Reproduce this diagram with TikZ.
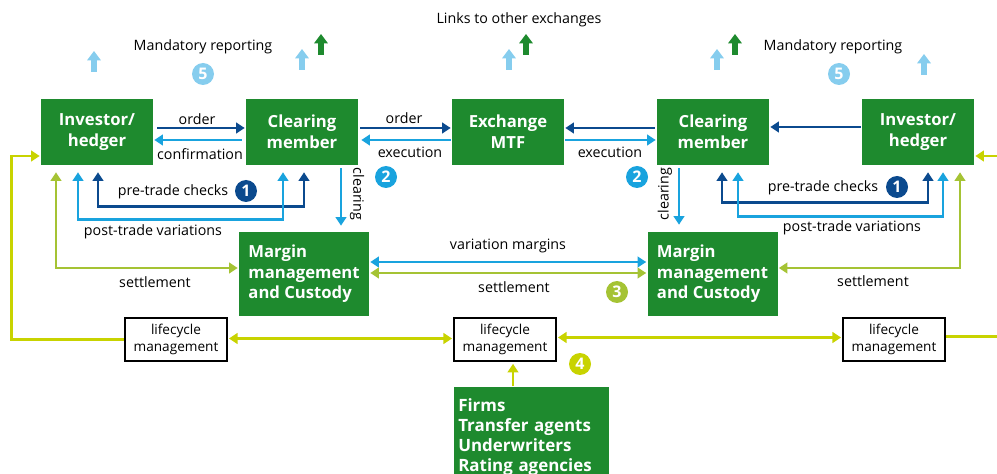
\documentclass[tikz,border=0pt]{standalone}
\usepackage{fontspec}
\setmainfont{Open Sans}
\usetikzlibrary{arrows.meta,calc}
\definecolor{boxgreen}{HTML}{1E8A2E}
\definecolor{dkblue}{HTML}{0B4A8E}
\definecolor{ltblue}{HTML}{19A3DE}
\definecolor{skyblue}{HTML}{86CDEE}
\definecolor{settlegreen}{HTML}{A5C334}
\definecolor{lcgreen}{HTML}{C8D300}
\tikzset{
	box/.style={fill=boxgreen, text=white, font=\bfseries\fontsize{12.5}{15.5}\selectfont, align=center, minimum width=84pt, minimum height=49.5pt, inner sep=2pt},
	mbox/.style={box, align=left, minimum width=97.5pt, minimum height=63pt},
	lcbox/.style={draw=black, line width=1.4pt, fill=white, font=\fontsize{10.2}{12.7}\selectfont, align=center, minimum width=76.5pt, minimum height=32pt, inner sep=1pt},
	lbl/.style={font=\fontsize{10.7}{12}\selectfont, inner sep=1pt},
	badge/.style={circle, fill=#1, text=white, font=\bfseries\fontsize{12}{12}\selectfont, minimum size=16.5pt, inner sep=0pt},
	tip/.tip={Triangle[length=6.5pt, width=8pt]},
	link/.style={draw=#1, line width=2.2pt, -tip},
	both/.style={link=#1, tip-tip},
	uparr/.style={draw=#1, line width=4.5pt, -{Triangle[length=7pt, width=10pt]}}
}
\begin{document}
\begin{tikzpicture}[x=0.75pt, y=-0.75pt]
	\useasboundingbox (0,0) rectangle (997,474);
	\node[box] (inv1) at (97,132) {Investor/\\hedger};
	\node[box] (clr1) at (302,132) {Clearing\\member};
	\node[box] (exch) at (508,132) {Exchange\\MTF};
	\node[box] (clr2) at (713,132) {Clearing\\member};
	\node[box] (inv2) at (918,132) {Investor/\\hedger};
	\node[mbox] (mrg1) at (304,274) {Margin\\management\\and Custody};
	\node[mbox] (mrg2) at (712.5,274) {Margin\\management\\and Custody};
	\node[lcbox] (lc1) at (176,339.5) {lifecycle\\management};
	\node[lcbox] (lc2) at (505,339.5) {lifecycle\\management};
	\node[lcbox] (lc3) at (894,339.5) {lifecycle\\management};
	\node[box, anchor=north west, align=left, minimum width=114.75pt, minimum height=75pt, text width=110pt, inner xsep=3pt, inner ysep=2pt, font=\bfseries\fontsize{12.7}{15}\selectfont] (firms) at (454,387) {Firms\\Transfer agents\\Underwriters\\Rating agencies};

	\draw[link=dkblue] ($(inv1.east)+(4,-4)$) -- ($(clr1.west)+(-1,-4)$);
	\draw[link=ltblue] ($(clr1.west)+(-4,8)$) -- ($(inv1.east)+(1,8)$);
	\draw[link=dkblue] ($(clr1.east)+(2,-4)$) -- ($(exch.west)+(-1,-4)$);
	\draw[link=ltblue] ($(exch.west)+(-1,8)$) -- ($(clr1.east)+(3,8)$);
	\draw[link=dkblue] ($(clr2.west)+(-2,-4)$) -- ($(exch.east)+(1,-4)$);
	\draw[link=ltblue] ($(exch.east)+(1,8)$) -- ($(clr2.west)+(-1,8)$);
	\draw[link=dkblue] ($(inv2.west)+(-1,-5)$) -- ($(clr2.east)+(1,-5)$);

	\draw[both=dkblue] ($(inv1.south)+(1,7)$) -- ++(0,34) -| ($(clr1.south)+(2,7)$);
	\draw[both=ltblue] ($(inv1.south)+(-19,7)$) -- ++(0,47) -| ($(clr1.south)+(-19,7)$);
	\draw[both=dkblue] ($(clr2.south)+(9,7)$) -- ++(0,30) -| ($(inv2.south)+(10,7)$);
	\draw[both=ltblue] ($(clr2.south)+(25,7)$) -- ++(0,44) -| ($(inv2.south)+(25,7)$);

	\draw[link=ltblue] ($(clr1.south)+(39,3)$) -- ($(mrg1.north)+(37,-6)$);
	\draw[link=ltblue] ($(clr2.south)+(-34,3)$) -- ($(mrg2.north)+(-33.5,-7)$);

	\draw[both=settlegreen] ($(inv1.south)+(-41,7)$) |- ($(mrg1.west)+(-1,-6)$);
	\draw[both=settlegreen] ($(inv2.south)+(42,7)$) |- ($(mrg2.east)+(1,-6)$);
	\draw[both=ltblue] ($(mrg1.east)+(1,-12)$) -- ($(mrg2.west)+(-1,-12)$);
	\draw[both=settlegreen] ($(mrg1.east)+(1,-1)$) -- ($(mrg2.west)+(-1,-1)$);

	\draw[link=lcgreen] (lc1.west) -- ++(-113,0) |- ($(inv1.west)+(-1,24)$);
	\draw[both=lcgreen] ($(lc1.east)+(1,-1)$) -- ($(lc2.west)+(-1,-1)$);
	\draw[both=lcgreen] ($(lc2.east)+(1,-2)$) -- ($(lc3.west)+(-1,-2)$);
	\draw[link=lcgreen] ($(lc3.east)+(0,-3)$) -- ++(62,0) |- ($(inv2.east)+(1,24)$);
	\draw[link=lcgreen] ($(firms.north west)+(59,-1)$) -- ($(lc2.south)+(8,2)$);

	\draw[uparr=skyblue] (94,72) -- ++(0,-21);
	\draw[uparr=skyblue] (302,70) -- ++(0,-21);
	\draw[uparr=boxgreen] (321,55) -- ++(0,-21);
	\draw[uparr=skyblue] (509,70) -- ++(0,-21);
	\draw[uparr=boxgreen] (526,55) -- ++(0,-21);
	\draw[uparr=skyblue] (717,70) -- ++(0,-21);
	\draw[uparr=boxgreen] (735,55) -- ++(0,-21);
	\draw[uparr=skyblue] (924,75) -- ++(0,-21);

	\node[lbl] (rep1) at (203,47) {Mandatory reporting};
	\node[lbl] (links) at (519,20) {Links to other exchanges};
	\node[lbl] (rep2) at (833,47) {Mandatory reporting};
	\node[lbl] (ord1) at (197,119) {order};
	\node[lbl] (conf) at (200,154) {confirmation};
	\node[lbl] (ord2) at (404,118) {order};
	\node[lbl] (exe1) at (410,152) {execution};
	\node[lbl] (exe2) at (610,152) {execution};
	\node[lbl, rotate=-90] (clg1) at (357,194) {clearing};
	\node[lbl, rotate=90] (clg2) at (665,194) {clearing};
	\node[lbl] (pre1) at (173,192) {pre-trade checks};
	\node[lbl] (post1) at (153,232) {post-trade variations};
	\node[lbl] (pre2) at (823,188) {pre-trade checks};
	\node[lbl] (post2) at (852,228) {post-trade variations};
	\node[lbl] (set1) at (155,282) {settlement};
	\node[lbl] (set2) at (873,281) {settlement};
	\node[lbl] (varm) at (508,246) {variation margins};
	\node[lbl] (set3) at (514,287) {settlement};

	\node[badge=skyblue] (b5a) at (203,74) {5};
	\node[badge=skyblue] (b5b) at (839,74) {5};
	\node[badge=dkblue] (b1a) at (246,191) {1};
	\node[badge=dkblue] (b1b) at (897,187) {1};
	\node[badge=ltblue] (b2a) at (386,177) {2};
	\node[badge=ltblue] (b2b) at (637,177) {2};
	\node[badge=settlegreen] (b3) at (617,292) {3};
	\node[badge=lcgreen] (b4) at (580,364) {4};
\end{tikzpicture}
\end{document}
